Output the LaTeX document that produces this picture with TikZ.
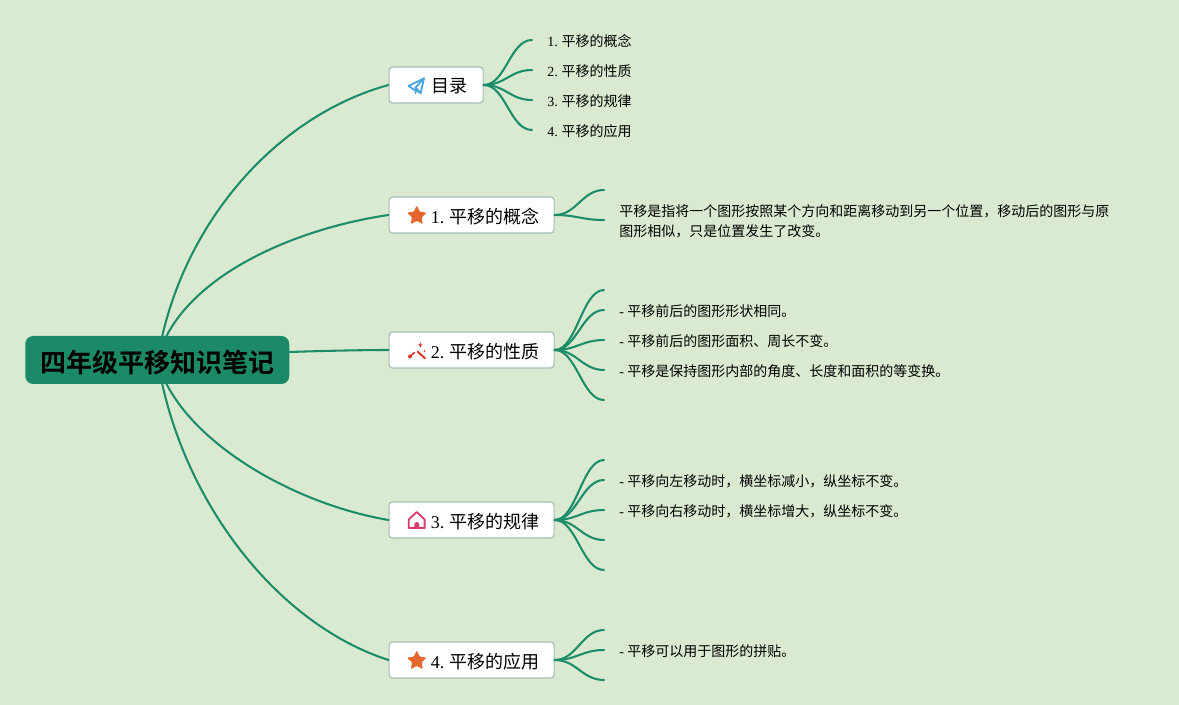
\documentclass[tikz,border=0pt]{standalone}
\usepackage{fontspec}
\setmainfont{Liberation Serif}
\newfontfamily\cjk{Noto Sans CJK SC}
\newfontfamily\cjkb{Noto Sans CJK SC Bold}
\usetikzlibrary{shapes.geometric}
\definecolor{bgc}{HTML}{DAEAD0}
\definecolor{linec}{HTML}{1D8C68}
\definecolor{rootc}{HTML}{1C8A68}
\definecolor{boxc}{HTML}{A3C0B6}
\definecolor{planec}{HTML}{45A5DC}
\definecolor{starc}{HTML}{E4672F}
\definecolor{wandc}{HTML}{D8392C}
\definecolor{housec}{HTML}{D93A68}
\newcommand{\bx}[1]{\hspace*{20.25pt}\raisebox{-0.9pt}[\height][\depth]{#1}}
\newcommand{\pre}[2]{#1 \kern-0.6pt{\cjk #2}}
\tikzset{
  x=0.75pt,y=-0.75pt,
  link/.style={draw=linec,line width=1.55pt,line cap=round},
  rootbox/.style={fill=rootc,rounded corners=6pt,minimum width=198pt,minimum height=36pt,inner sep=0pt,anchor=west,font=\fontsize{19.5pt}{23pt}\cjkb,text=black},
  topicbox/.style={draw=boxc,line width=0.9pt,fill=white,rounded corners=2.5pt,minimum width=123.75pt,minimum height=27pt,inner sep=0pt,anchor=west,font=\fontsize{13.5pt}{16pt}\selectfont,text=black},
  leaf/.style={anchor=west,inner sep=0pt,font=\fontsize{10.5pt}{15pt}\selectfont,text=black,align=left},
  icon/.style={line width=1.35pt,line join=round,line cap=round},
  staricon/.style={star,star points=5,star point ratio=2.05,fill=starc,inner sep=0pt,minimum size=15.5pt,rounded corners=0.8pt}
}
\begin{document}
\begin{tikzpicture}
\path[use as bounding box,fill=bgc] (0,0) rectangle (1179,705);
% branch end points
\coordinate (rt1) at (162,337); \coordinate (rt2) at (166,337);
\coordinate (rb3) at (166,383); \coordinate (rb4) at (162,383);
\coordinate (rr) at (289,352);
\coordinate (a1) at (532,40); \coordinate (a2) at (532,70); \coordinate (a3) at (532,100); \coordinate (a4) at (532,130);
\coordinate (b1) at (604,190); \coordinate (b2) at (604,220);
\coordinate (c1) at (604,290); \coordinate (c2) at (604,310); \coordinate (c3) at (604,340); \coordinate (c4) at (604,370); \coordinate (c5) at (604,400);
\coordinate (d1) at (604,460); \coordinate (d2) at (604,480); \coordinate (d3) at (604,510); \coordinate (d4) at (604,540); \coordinate (d5) at (604,570);
\coordinate (e1) at (604,630); \coordinate (e2) at (604,650); \coordinate (e3) at (604,680);
% nodes
\node[rootbox] (root) at (25,360) {\raisebox{-1.6pt}[\height][\depth]{四年级平移知识笔记}};
\node[topicbox,minimum width=70.5pt] (t0) at (388.5,85) {\bx{\cjk 目录}};
\node[topicbox] (t1) at (388.5,215) {\bx{\pre{1.}{平移的概念}}};
\node[topicbox] (t2) at (388.5,350) {\bx{\pre{2.}{平移的性质}}};
\node[topicbox] (t3) at (388.5,520) {\bx{\pre{3.}{平移的规律}}};
\node[topicbox] (t4) at (388.5,660) {\bx{\pre{4.}{平移的应用}}};
\node[leaf] (l01) at (547,41) {\pre{1.}{平移的概念}};
\node[leaf] (l02) at (547,71) {\pre{2.}{平移的性质}};
\node[leaf] (l03) at (547,101) {\pre{3.}{平移的规律}};
\node[leaf] (l04) at (547,131) {\pre{4.}{平移的应用}};
\node[leaf] (l1) at (619,221) {\cjk 平移是指将一个图形按照某个方向和距离移动到另一个位置，移动后的图形与原\\\cjk 图形相似，只是位置发生了改变。};
\node[leaf] (l21) at (619,311) {- {\cjk 平移前后的图形形状相同。}};
\node[leaf] (l22) at (619,341) {- {\cjk 平移前后的图形面积、周长不变。}};
\node[leaf] (l23) at (619,371) {- {\cjk 平移是保持图形内部的角度、长度和面积的等变换。}};
\node[leaf] (l31) at (619,481) {- {\cjk 平移向左移动时，横坐标减小，纵坐标不变。}};
\node[leaf] (l32) at (619,511) {- {\cjk 平移向右移动时，横坐标增大，纵坐标不变。}};
\node[leaf] (l41) at (619,651) {- {\cjk 平移可以用于图形的拼贴。}};
% main connectors
\draw[link] (rt1) .. controls (190,215) and (280,115) .. (t0.west);
\draw[link] (rt2) .. controls (200,270) and (300,228) .. (t1.west);
\draw[link] (rr) .. controls (320,351) and (360,350) .. (t2.west);
\draw[link] (rb3) .. controls (200,450) and (300,505) .. (t3.west);
\draw[link] (rb4) .. controls (190,510) and (280,625) .. (t4.west);
% sub connectors
\foreach \s/\e in {t0/a1,t0/a2,t0/a3,t0/a4,t1/b1,t1/b2,t2/c1,t2/c2,t2/c3,t2/c4,t2/c5,t3/d1,t3/d2,t3/d3,t3/d4,t3/d5,t4/e1,t4/e2,t4/e3}
  \draw[link] (\s.east) .. controls +(22,0) and +(-22,0) .. (\e);
% icons
\draw[planec,icon] (424,78.3) -- (408.6,86) -- (413,89) -- (420.7,93) -- cycle;
\draw[planec,icon] (424,78.3) -- (415.5,87.5) -- (415.5,93) (415.5,87.5) -- (420.7,93);
\node[staricon] (s1) at (416.8,215.8) {};
\node[staricon] (s4) at (416.8,660.8) {};
\draw[wandc,line width=1.5pt,line cap=round] (417.5,351.5) -- (425,358.3);
\draw[wandc,line width=1.2pt,line cap=round] (411,355.5) -- (414.5,352.5);
\fill[wandc] (410,356.5) circle (2);
\fill[wandc] (420.3,342) -- (421,344.3) -- (423,345) -- (421,345.7) -- (420.3,348) -- (419.6,345.7) -- (417.6,345) -- (419.6,344.3) -- cycle;
\fill[wandc] (424.3,351) circle (1);
\draw[housec,icon] (408.8,528) -- (408.8,519.5) -- (416.7,512) -- (424.6,519.5) -- (424.6,528) -- cycle;
\fill[housec] (414.4,528) -- (414.4,524.3) arc[start angle=180,end angle=360,radius=2.3] -- (419,528) -- cycle;
\end{tikzpicture}
\end{document}
